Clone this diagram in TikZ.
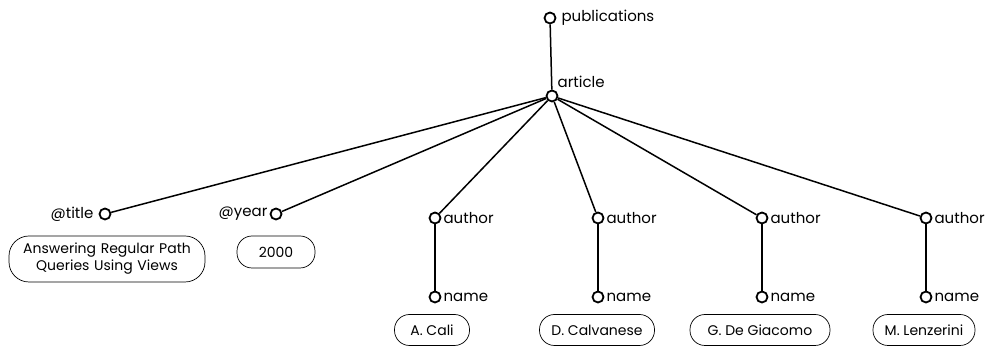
\documentclass[tikz,border=0pt]{standalone}
\usepackage{fontspec}
\setmainfont{Poppins}
\begin{document}
\begin{tikzpicture}[x=1pt,y=-1pt,
  vtx/.style={circle,draw,line width=1.8pt,minimum size=11pt,inner sep=0pt},
  edge/.style={line width=1.5pt},
  lbl/.style={font=\fontsize{15}{17}\selectfont,inner sep=1pt},
  val/.style={draw,rounded corners=15pt,line width=0.7pt,font=\fontsize{14}{17}\selectfont,align=center,inner xsep=6pt}]
\useasboundingbox (0,0) rectangle (989,352);
% vertices
\node[vtx] (pub) at (550,18) {};
\node[vtx] (art) at (552,96) {};
\node[vtx] (tit) at (105,214) {};
\node[vtx] (yr)  at (276,214) {};
\node[vtx] (a1) at (435,218) {};
\node[vtx] (a2) at (598,218) {};
\node[vtx] (a3) at (762,218) {};
\node[vtx] (a4) at (926,218) {};
\node[vtx] (n1) at (435,297) {};
\node[vtx] (n2) at (598,297) {};
\node[vtx] (n3) at (762,297) {};
\node[vtx] (n4) at (926,297) {};
% labels
\node[lbl,anchor=west] (lpub) at ([xshift=4pt]pub.east) {publications};
\node[lbl,anchor=south west] (lart) at ([xshift=0pt,yshift=3pt]art.north east) {article};
\node[lbl,anchor=east] (ltit) at ([xshift=-4pt]tit.west) {@title};
\node[lbl,anchor=east] (lyr) at ([xshift=-1pt]yr.west) {@year};
\foreach \v in {a1,a2,a3,a4}
  \node[lbl,anchor=west] (l\v) at ([xshift=1pt]\v.east) {author};
\foreach \v in {n1,n2,n3,n4}
  \node[lbl,anchor=west] (l\v) at ([xshift=1pt]\v.east) {name};
% edges
\draw[edge] (pub) -- (art);
\foreach \v in {tit,yr,a1,a2,a3,a4}
  \draw[edge] (art) -- (\v);
\draw[edge] (a1) -- (n1);
\draw[edge] (a2) -- (n2);
\draw[edge] (a3) -- (n3);
\draw[edge] (a4) -- (n4);
% values
\node[val,minimum height=46pt,text width=184pt,rounded corners=20pt] (vtit) at (107,259) {Answering Regular Path\\Queries Using Views};
\node[val,minimum height=32pt,minimum width=78pt] (vyr) at (276,252) {2000};
\node[val,minimum height=31pt,minimum width=75pt] (v1) at (432,330) {A. Cali};
\node[val,minimum height=31pt,minimum width=115pt] (v2) at (597,330) {D. Calvanese};
\node[val,minimum height=31pt,minimum width=140pt] (v3) at (760,330) {G. De Giacomo};
\node[val,minimum height=31pt,minimum width=102pt] (v4) at (924,330) {M. Lenzerini};
\end{tikzpicture}
\end{document}
